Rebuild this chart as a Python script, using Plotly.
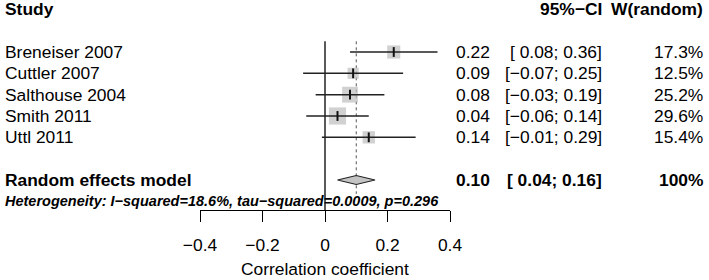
import math
import plotly.graph_objects as go

# ---------------- data ----------------
studies = ["Breneiser 2007", "Cuttler 2007", "Salthouse 2004", "Smith 2011", "Uttl 2011"]
estimates = [0.22, 0.09, 0.08, 0.04, 0.14]
ci_lower = [0.08, -0.07, -0.03, -0.06, -0.01]
ci_upper = [0.36, 0.25, 0.19, 0.14, 0.29]
weights = [17.3, 12.5, 25.2, 29.6, 15.4]

summary_label = "Random effects model"
summary_est = 0.10
summary_lower = 0.04
summary_upper = 0.16
summary_weight = "100%"

i_squared = 18.6
tau_squared = 0.0009
p_value = 0.296

tick_values = [-0.4, -0.2, 0, 0.2, 0.4]
tick_labels = ["\u22120.4", "\u22120.2", "0", "0.2", "0.4"]
x_title = "Correlation coefficient"
headers = ["Study", "95%\u2212CI", "W(random)"]

# ---------------- layout constants ----------------
W, H = 709, 280
FONT = "Liberation Sans, Arial, Helvetica, sans-serif"
FS = 17.4
ROW_PX = 21.33
FIRST_ROW_PX = 52
AXIS_PX = 210
Y_TOP = -FIRST_ROW_PX / ROW_PX
Y_BOTTOM = (AXIS_PX - FIRST_ROW_PX) / ROW_PX

n = len(studies)
rows = list(range(n))
summary_row = n + 1
het_row = n + 2
header_row = -2

X_LABEL = 3 / W
X_EST = 492 / W
X_CI = 604 / W
X_W = 705 / W


def fmt_lo(v):
    s = f"{abs(v):.2f}"
    return ("\u2212" + s) if v < 0 else (" " + s)


def fmt_up(v):
    s = f"{abs(v):.2f}"
    return ("\u2212" + s) if v < 0 else s


def ci_text(lo, up):
    return f"[{fmt_lo(lo)}; {fmt_up(up)}]"


fig = go.Figure()

# dotted summary line (behind)
fig.add_trace(go.Scatter(
    x=[summary_est, summary_est], y=[-0.5, summary_row + 0.65],
    mode="lines", line=dict(color="#555555", width=1, dash="dot"),
    hoverinfo="skip"))

# zero line
fig.add_trace(go.Scatter(
    x=[0, 0], y=[-0.5, Y_BOTTOM],
    mode="lines", line=dict(color="black", width=1.3),
    hoverinfo="skip"))

# squares
fig.add_trace(go.Scatter(
    x=estimates, y=rows, mode="markers",
    marker=dict(symbol="square", color="#bdbdbd",
                size=[3.15 * math.sqrt(w) for w in weights],
                line=dict(width=0)),
    hoverinfo="skip"))

# CI lines
for i in range(n):
    fig.add_trace(go.Scatter(
        x=[ci_lower[i], ci_upper[i]], y=[rows[i], rows[i]],
        mode="lines", line=dict(color="#222222", width=1.5),
        hoverinfo="skip"))

# center ticks
fig.add_trace(go.Scatter(
    x=estimates, y=rows, mode="markers",
    marker=dict(symbol="line-ns", size=7, color="black",
                line=dict(width=2, color="#111111")),
    hoverinfo="skip"))

# diamond
dh = 0.21
fig.add_trace(go.Scatter(
    x=[summary_lower, summary_est, summary_upper, summary_est, summary_lower],
    y=[summary_row, summary_row - dh, summary_row, summary_row + dh, summary_row],
    mode="lines", fill="toself", fillcolor="#c4c4c4",
    line=dict(color="#222222", width=1.2), hoverinfo="skip"))

ann = []


def text(x, y, s, anchor="left", bold=False, italic=False, size=FS, yref="y"):
    if bold:
        s = f"<b>{s}</b>"
    if italic:
        s = f"<i>{s}</i>"
    ann.append(dict(x=x, y=y, xref="paper", yref=yref, text=s, showarrow=False,
                    xanchor=anchor, yanchor="middle",
                    font=dict(family=FONT, size=size, color="black")))


text(X_LABEL, header_row, headers[0], bold=True)
text(X_CI, header_row, headers[1], anchor="right", bold=True)
text(X_W, header_row, headers[2], anchor="right", bold=True)

for i in range(n):
    text(X_LABEL, rows[i], studies[i])
    text(X_EST, rows[i], f"{estimates[i]:.2f}", anchor="right")
    text(X_CI, rows[i], ci_text(ci_lower[i], ci_upper[i]), anchor="right")
    text(X_W, rows[i], f"{weights[i]:.1f}%", anchor="right")

text(X_LABEL, summary_row, summary_label, bold=True)
text(X_EST, summary_row, f"{summary_est:.2f}", anchor="right", bold=True)
text(X_CI, summary_row, ci_text(summary_lower, summary_upper), anchor="right", bold=True)
text(X_W, summary_row, summary_weight, anchor="right", bold=True)

het = (f"Heterogeneity: I\u2212squared={i_squared}%, "
       f"tau\u2212squared={tau_squared:.4f}, p={p_value}")
text(X_LABEL, het_row, het, bold=True, italic=True, size=14.5)

# axis title
ann.append(dict(x=325 / W, y=(H - 269) / H, xref="paper", yref="paper",
                text=x_title, showarrow=False, xanchor="center", yanchor="middle",
                font=dict(family=FONT, size=FS, color="black")))

fig.update_layout(
    template="none",
    width=W, height=H,
    autosize=False,
    margin=dict(l=0, r=0, t=0, b=0, pad=0, autoexpand=False),
    paper_bgcolor="white", plot_bgcolor="white",
    showlegend=False,
    annotations=ann,
    xaxis=dict(domain=[200 / W, 450 / W], range=[-0.4, 0.4], automargin=False,
               tickvals=tick_values, ticktext=tick_labels,
               showline=True, linecolor="black", linewidth=1.3,
               ticks="outside", ticklen=11, tickwidth=1.3, tickcolor="black",
               showgrid=False, zeroline=False,
               tickfont=dict(family=FONT, size=FS, color="black"),
               ticklabelstandoff=8),
    yaxis=dict(domain=[(H - AXIS_PX) / H, 1], range=[Y_BOTTOM, Y_TOP], automargin=False,
               visible=False, showgrid=False, zeroline=False),
)

fig.write_html(
    "out.html",
    config={"responsive": False, "displayModeBar": False},
    post_script="document.body.style.margin='0';document.body.style.overflow='hidden';",
)
